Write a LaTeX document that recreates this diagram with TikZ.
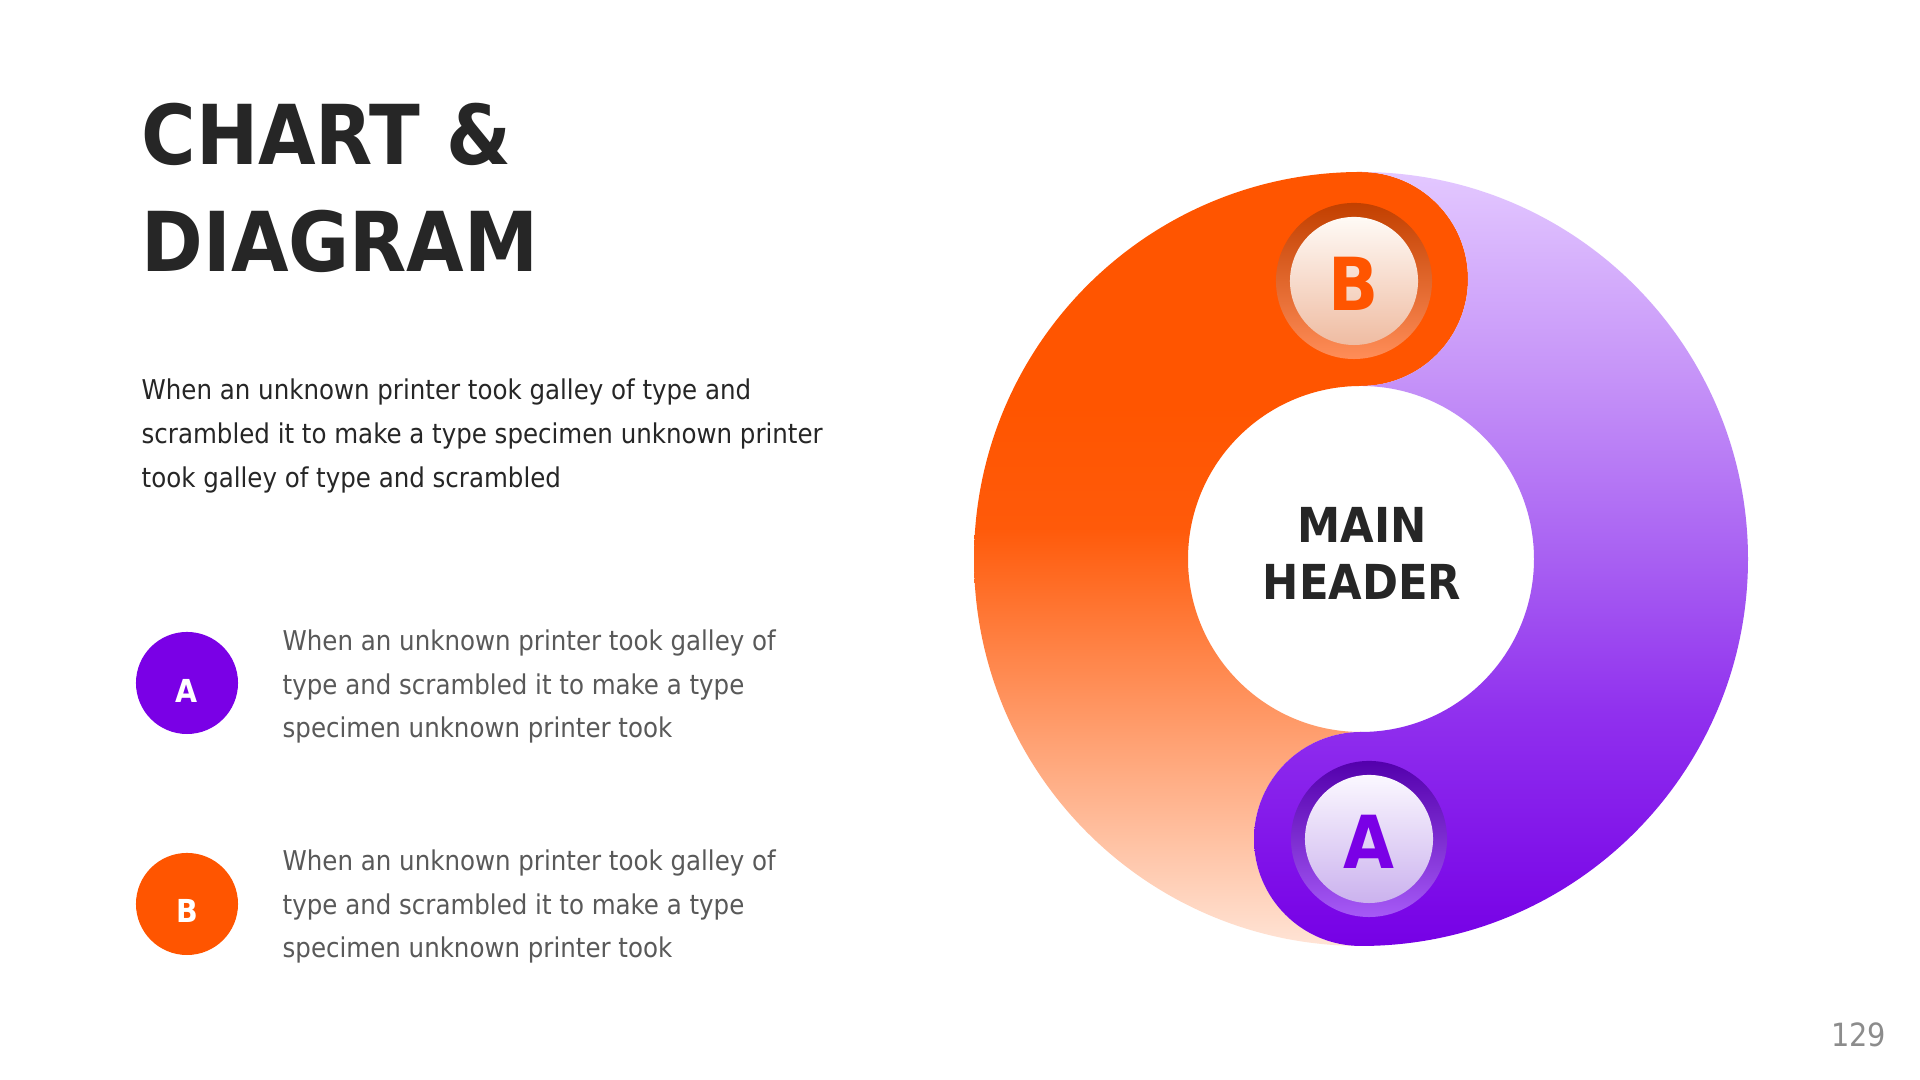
\documentclass[tikz,border=0pt]{standalone}
\usepackage{fontspec}
\setmainfont{DejaVu Sans Condensed}
\definecolor{orng}{HTML}{FF5500}
\definecolor{prpl}{HTML}{7A00E6}
\definecolor{ink}{HTML}{262626}
\definecolor{greytext}{HTML}{595959}
\definecolor{pagenum}{HTML}{8C8C8C}
\definecolor{oA}{HTML}{FFE4D6}
\definecolor{oB}{HTML}{FFA274}
\definecolor{oC}{HTML}{FF5A0A}
\definecolor{pA}{HTML}{7600E6}
\definecolor{pB}{HTML}{9030EE}
\definecolor{pC}{HTML}{A860F2}
\definecolor{pD}{HTML}{C694F8}
\definecolor{pE}{HTML}{E3C8FF}
\definecolor{bRingTop}{HTML}{C24000}
\definecolor{bRingBot}{HTML}{FF8D58}
\definecolor{bInTop}{HTML}{FFFAF6}
\definecolor{bInBot}{HTML}{EFBCA2}
\definecolor{aRingTop}{HTML}{5300AC}
\definecolor{aRingBot}{HTML}{A65AF6}
\definecolor{aInTop}{HTML}{FBF8FF}
\definecolor{aInBot}{HTML}{CBB2EE}
\pgfdeclareverticalshading{orangeshade}{100bp}{color(0bp)=(oA); color(25bp)=(oA); color(38bp)=(oB); color(52bp)=(oC); color(60bp)=(orng); color(100bp)=(orng)}
\pgfdeclareverticalshading{purpleshade}{100bp}{color(0bp)=(pA); color(25bp)=(pA); color(40bp)=(pB); color(50bp)=(pC); color(62bp)=(pD); color(75bp)=(pE); color(100bp)=(pE)}
\tikzset{
  titletext/.style={anchor=base west, inner sep=0pt, text=ink, font=\fontsize{23.5}{27}\selectfont\bfseries},
  bodytext/.style={anchor=base west, inner sep=0pt, text=ink, font=\fontsize{7.75}{9}\selectfont},
  legendtext/.style={anchor=base west, inner sep=0pt, text=greytext, font=\fontsize{7.75}{9}\selectfont},
  legendbadge/.style={circle, inner sep=0pt, minimum size=1.02cm},
  legendletter/.style={inner sep=0pt, text=white, font=\fontsize{9}{10}\selectfont\bfseries},
  headtext/.style={anchor=base, inner sep=0pt, text=ink, font=\fontsize{13.7}{16}\selectfont\bfseries},
  badgering/.style={circle, inner sep=0pt, minimum size=1.56cm},
  badgeinner/.style={circle, inner sep=0pt, minimum size=1.28cm},
  badgeletter/.style={inner sep=0pt, font=\fontsize{20.8}{24}\selectfont\bfseries},
}
\begin{document}
\begin{tikzpicture}[x=0.01cm,y=0.01cm]
\useasboundingbox[fill=white] (0,0) rectangle (1920,1080);
% title
\node[titletext] (t1) at (141,915) {CHART \&};
\node[titletext] (t2) at (141,808) {DIAGRAM};
% paragraph
\node[bodytext] (p1) at (141,680) {When an unknown printer took galley of type and};
\node[bodytext] (p2) at (141,636) {scrambled it to make a type specimen unknown printer};
\node[bodytext] (p3) at (141,592) {took galley of type and scrambled};
% legend A
\node[legendbadge, fill=prpl] (la) at (187,397) {};
\node[legendletter] (lat) at (187,389) {A};
\node[legendtext] (a1) at (282,429) {When an unknown printer took galley of};
\node[legendtext] (a2) at (282,385) {type and scrambled it to make a type};
\node[legendtext] (a3) at (282,342) {specimen unknown printer took};
% legend B
\node[legendbadge, fill=orng] (lb) at (187,176) {};
\node[legendletter] (lbt) at (187,169) {B};
\node[legendtext] (b1) at (282,209) {When an unknown printer took galley of};
\node[legendtext] (b2) at (282,165) {type and scrambled it to make a type};
\node[legendtext] (b3) at (282,122) {specimen unknown printer took};
% ring: orange half
\path[shading=orangeshade] (1361,908) arc[start angle=90,end angle=270,radius=387]
  arc[start angle=270,end angle=90,radius=107]
  arc[start angle=270,end angle=90,radius=173]
  arc[start angle=-90,end angle=90,radius=107] -- cycle;
% ring: purple half
\path[shading=purpleshade] (1361,134) arc[start angle=-90,end angle=90,radius=387]
  arc[start angle=90,end angle=-90,radius=107]
  arc[start angle=90,end angle=-90,radius=173]
  arc[start angle=90,end angle=270,radius=107] -- cycle;
% centre
\node[circle, inner sep=0pt, minimum size=3.46cm] (hub) at (1361,521) {};
\node[headtext] (h1) at (1362,537) {MAIN};
\node[headtext] (h2) at (1362,480) {HEADER};
% badge B
\node[badgering, top color=bRingTop, bottom color=bRingBot] (bring) at (1354,799) {};
\node[badgeinner, top color=bInTop, bottom color=bInBot] (binner) at (bring.center) {};
\node[badgeletter, text=orng] (bl) at (1354,796.5) {B};
% badge A
\node[badgering, top color=aRingTop, bottom color=aRingBot] (aring) at (1369,241) {};
\node[badgeinner, top color=aInTop, bottom color=aInBot] (ainner) at (aring.center) {};
\node[badgeletter, text=prpl] (al) at (1369,238.5) {A};
% page number
\node[anchor=base east, inner sep=0pt, text=pagenum, font=\fontsize{9.1}{11}\selectfont] (pg) at (1887,33) {129};
\end{tikzpicture}
\end{document}
